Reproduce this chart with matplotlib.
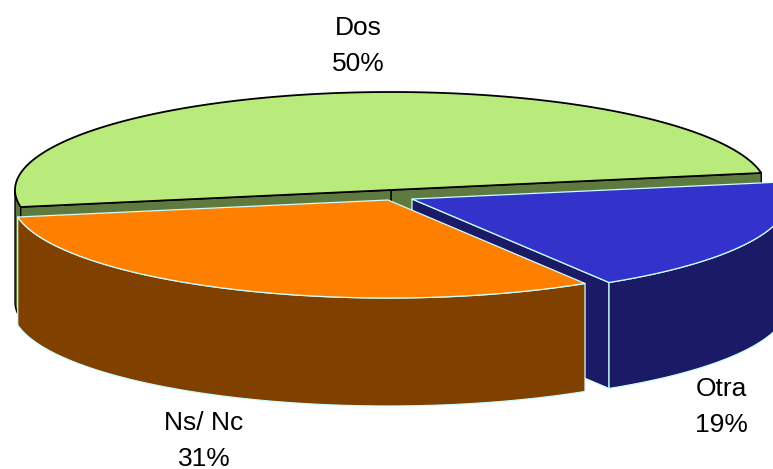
import numpy as np
import matplotlib.pyplot as plt

plt.switch_backend('Agg')
plt.rcParams['font.family'] = ['Liberation Sans', 'DejaVu Sans']

labels = ['Dos', 'Ns/ Nc', 'Otra']
shares = [50, 31, 19]

# top colour, wall colour, edge colour, apex of the slice in pixels
tops = ['#B8EB7C', '#FF8000', '#3333CC']
walls = ['#5E7A3E', '#804000', '#1A1A66']
edges = ['#000000', '#CCFFFF', '#CCFFFF']
apexes = [(391, 190), (388, 200), (412, 199)]
depths = [112, 108, 106]
label_pos = [(358, 46), (204, 441), (721, 407)]

A = 376   # half width of the ellipse
B = 98    # half height
START = 10

fig = plt.figure(figsize=(7.73, 4.69), dpi=100)
ax = fig.add_axes([0, 0, 1, 1])
ax.set_xlim(0, 773)
ax.set_ylim(469, 0)
ax.axis('off')

ends = START + np.cumsum(shares) * 3.6
starts = ends - np.array(shares) * 3.6


def arc(apex, t0, t1, dy=0):
    t = np.radians(np.linspace(t0, t1, 200))
    return apex[0] + A * np.cos(t), apex[1] - B * np.sin(t) + dy


def side(i, t0, t1, lw):
    # outer wall of the slice between t0 and t1
    x, y = arc(apexes[i], t0, t1)
    xb, yb = arc(apexes[i], t1, t0, depths[i])
    ax.fill(np.r_[x, xb], np.r_[y, yb], fc=walls[i], ec=edges[i], lw=lw, joinstyle='round')


def cut(i, t, lw):
    # flat face from the apex to the rim at angle t
    x, y = arc(apexes[i], t, t)
    px, py = x[0], y[0]
    cx, cy = apexes[i]
    ax.fill([cx, px, px, cx], [cy, py, py + depths[i], cy + depths[i]],
            fc=walls[i], ec=edges[i], lw=lw)


def top(i, lw):
    x, y = arc(apexes[i], starts[i], ends[i])
    cx, cy = apexes[i]
    ax.fill(np.r_[cx, x], np.r_[cy, y], fc=tops[i], ec=edges[i], lw=lw, joinstyle='round')


# back to front: Dos, Otra, Ns/ Nc
side(0, 180, ends[0], 1.0)
cut(0, starts[0], 1.0)
cut(0, ends[0], 1.0)
top(0, 1.3)

cut(2, starts[2], 0.9)
side(2, starts[2], ends[2], 0.9)
top(2, 0.9)

side(1, starts[1], ends[1], 0.9)
top(1, 0.9)

for name, share, (x, y) in zip(labels, shares, label_pos):
    ax.text(x, y, f'{name}\n{share}%', fontsize=19, ha='center', va='center',
            linespacing=1.64, color='black')

plt.savefig('out.png', dpi=100)
plt.close()
